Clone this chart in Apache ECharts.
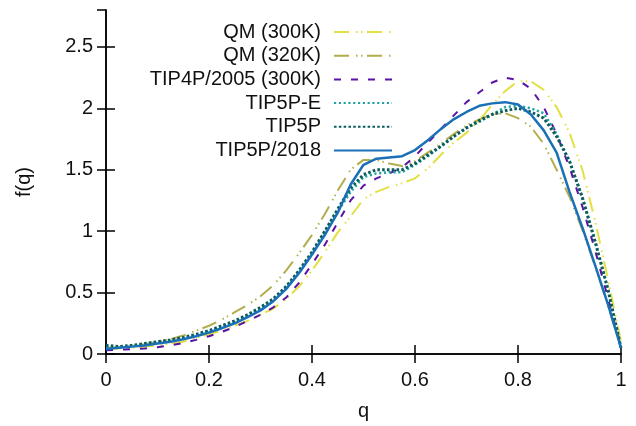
<!DOCTYPE html>
<html>
<head>
<meta charset="utf-8">
<script src="https://cdn.jsdelivr.net/npm/echarts@6/dist/echarts.min.js"></script>
<style>
  html, body { margin: 0; padding: 0; background: #fff; }
  #chart { width: 636px; height: 426px; }
</style>
</head>
<body>
<div id="chart"></div>
<script>
// Overlap distribution f(q) for several water models
const q = [0, 0.025, 0.05, 0.075, 0.1, 0.125, 0.15, 0.175, 0.2, 0.225,
  0.25, 0.275, 0.3, 0.325, 0.35, 0.375, 0.4, 0.425, 0.45, 0.475,
  0.5, 0.525, 0.55, 0.575, 0.6, 0.625, 0.65, 0.675, 0.7, 0.725,
  0.75, 0.775, 0.8, 0.825, 0.85, 0.875, 0.9, 0.925, 0.95, 0.975, 1.0];

const qm300 = [0.04, 0.045, 0.05, 0.06, 0.07, 0.085, 0.10, 0.13, 0.16, 0.19,
  0.23, 0.27, 0.32, 0.37, 0.45, 0.55, 0.68, 0.83, 0.99, 1.12,
  1.26, 1.32, 1.36, 1.39, 1.43, 1.51, 1.62, 1.72, 1.80, 1.90,
  2.03, 2.14, 2.22, 2.22, 2.15, 2.01, 1.80, 1.50, 1.08, 0.60, 0.10];

const qm320 = [0.05, 0.055, 0.065, 0.08, 0.10, 0.12, 0.15, 0.19, 0.23, 0.28,
  0.34, 0.40, 0.47, 0.56, 0.68, 0.82, 0.97, 1.14, 1.33, 1.50,
  1.58, 1.58, 1.55, 1.53, 1.57, 1.64, 1.71, 1.79, 1.86, 1.91,
  1.95, 1.96, 1.92, 1.85, 1.71, 1.50, 1.28, 1.01, 0.71, 0.39, 0.05];

const tip4p2005 = [0.03, 0.035, 0.04, 0.045, 0.055, 0.07, 0.09, 0.115, 0.145, 0.18,
  0.22, 0.27, 0.32, 0.38, 0.46, 0.58, 0.73, 0.89, 1.07, 1.25,
  1.37, 1.43, 1.47, 1.52, 1.61, 1.72, 1.83, 1.94, 2.05, 2.13,
  2.21, 2.25, 2.23, 2.16, 2.01, 1.79, 1.52, 1.20, 0.84, 0.45, 0.05];

const tip5pE = [0.05, 0.055, 0.065, 0.08, 0.095, 0.11, 0.13, 0.155, 0.185, 0.22,
  0.26, 0.31, 0.37, 0.44, 0.54, 0.67, 0.82, 0.99, 1.16, 1.32,
  1.44, 1.47, 1.48, 1.48, 1.54, 1.61, 1.69, 1.77, 1.84, 1.89,
  1.95, 2.01, 2.02, 2.00, 1.96, 1.79, 1.57, 1.28, 0.92, 0.52, 0.05];

const tip5p = [0.07, 0.06, 0.07, 0.085, 0.10, 0.115, 0.135, 0.16, 0.19, 0.23,
  0.27, 0.32, 0.38, 0.45, 0.55, 0.68, 0.83, 1.00, 1.18, 1.35,
  1.46, 1.50, 1.50, 1.50, 1.55, 1.62, 1.69, 1.77, 1.84, 1.90,
  1.95, 1.98, 2.00, 1.97, 1.92, 1.77, 1.57, 1.27, 0.91, 0.52, 0.05];

const tip5p2018 = [0.04, 0.05, 0.06, 0.07, 0.085, 0.10, 0.12, 0.145, 0.175, 0.21,
  0.25, 0.30, 0.355, 0.43, 0.53, 0.66, 0.81, 0.97, 1.15, 1.38,
  1.54, 1.59, 1.60, 1.61, 1.66, 1.74, 1.83, 1.91, 1.97, 2.02,
  2.04, 2.05, 2.03, 1.95, 1.82, 1.64, 1.32, 1.03, 0.72, 0.40, 0.05];

const seriesNames = ['QM (300K)', 'QM (320K)', 'TIP4P/2005 (300K)', 'TIP5P-E', 'TIP5P', 'TIP5P/2018'];
const seriesValues = [qm300, qm320, tip4p2005, tip5pE, tip5p, tip5p2018];

const dashDotDot = [15, 7, 1.5, 3.5, 1.5, 4.5];
const styles = [
  { color: '#e2e042', width: 2, type: dashDotDot },
  { color: '#b3ad4c', width: 2, type: dashDotDot },
  { color: '#5a12a6', width: 2, type: [7, 10] },
  { color: '#22a3a3', width: 2.5, type: [2.2, 2.6] },
  { color: '#0c5c5c', width: 3, type: [2.6, 2.2] },
  { color: '#1a70b6', width: 2.5, type: 'solid' }
];

const FONT = 'Liberation Sans, Arial, sans-serif';

const series = seriesNames.map((name, i) => ({
  name: name,
  type: 'line',
  data: q.map((x, k) => [x, seriesValues[i][k]]),
  symbol: 'none',
  showSymbol: false,
  smooth: false,
  z: 2 + i,
  itemStyle: { color: styles[i].color },
  lineStyle: {
    color: styles[i].color,
    width: styles[i].width,
    type: styles[i].type,
    cap: 'butt'
  }
}));

const axisLine = { show: true, lineStyle: { color: '#000', width: 1.5 } };
const tickIn = { show: true, inside: true, length: 9, lineStyle: { color: '#000', width: 1.5 } };

const chart = echarts.init(document.getElementById('chart'), null, { renderer: 'canvas' });
chart.setOption({
  animation: false,
  backgroundColor: '#fff',
  grid: { left: 106, right: 15, top: 10, bottom: 72, containLabel: false },
  legend: {
    orient: 'vertical',
    align: 'right',
    right: 238,
    top: 17,
    itemWidth: 58,
    itemHeight: 14,
    itemGap: 3.7,
    data: seriesNames,
    itemStyle: { opacity: 0 },
    textStyle: { fontFamily: FONT, fontSize: 20, color: '#111', lineHeight: 20, padding: [0, 8, 0, 0] }
  },
  xAxis: [
    {
      type: 'value', min: 0, max: 1, interval: 0.2, position: 'bottom',
      name: 'q', nameLocation: 'middle', nameGap: 47,
      nameTextStyle: { fontFamily: FONT, fontSize: 20, color: '#111' },
      axisLine: axisLine, axisTick: tickIn, splitLine: { show: false },
      axisLabel: { fontFamily: FONT, fontSize: 20, color: '#111', margin: 16 }
    },
    {
      type: 'value', min: 0, max: 1, interval: 0.2, position: 'top',
      axisLine: axisLine, axisTick: tickIn, splitLine: { show: false },
      axisLabel: { show: false }
    }
  ],
  yAxis: [
    {
      type: 'value', min: 0, max: 2.8, interval: 0.5, position: 'left',
      name: 'f(q)', nameLocation: 'middle', nameGap: 72, nameRotate: 90,
      nameTextStyle: { fontFamily: FONT, fontSize: 20, color: '#111' },
      axisLine: axisLine, axisTick: tickIn, splitLine: { show: false },
      axisLabel: {
        fontFamily: FONT, fontSize: 20, color: '#111', margin: 13, showMaxLabel: false,
        formatter: v => (Math.abs(v * 2 - Math.round(v * 2)) < 1e-6 ? String(v) : '')
      }
    },
    {
      type: 'value', min: 0, max: 2.8, interval: 0.5, position: 'right',
      axisLine: axisLine, axisTick: tickIn, splitLine: { show: false },
      axisLabel: { show: false }
    }
  ],
  series: series
});
</script>
</body>
</html>
